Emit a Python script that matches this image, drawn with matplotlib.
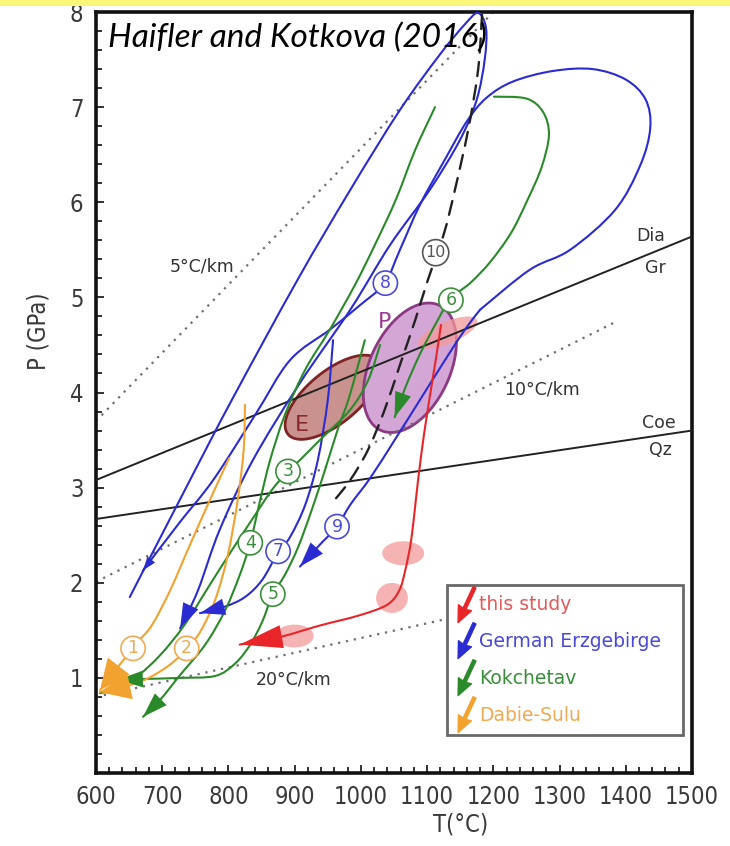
import os
import numpy as np
import matplotlib
matplotlib.use("Agg")
import matplotlib.pyplot as plt
from matplotlib import font_manager
from matplotlib.font_manager import FontProperties
from matplotlib.path import Path
from matplotlib.patches import PathPatch, Rectangle
from matplotlib.transforms import Affine2D
from matplotlib.lines import Line2D

# ---------------- data (T in °C, P in GPa) ----------------
x_ticks = [600, 700, 800, 900, 1000, 1100, 1200, 1300, 1400, 1500]
y_ticks = [1, 2, 3, 4, 5, 6, 7, 8]

# geotherms (dotted)
geo5_T, geo5_P = [600, 1200], [3.70, 8.0]
geo10_T, geo10_P = [600, 1384], [2.01, 4.74]
geo20_T, geo20_P = [600, 1130], [0.80, 1.62]

# reaction lines
diagr_T, diagr_P = [600, 1500], [3.08, 5.64]
coeqz_T, coeqz_P = [600, 1500], [2.67, 3.60]

# this study (red)
red_T = [1121, 1113, 1101, 1091, 1083, 1076, 1067, 1058, 1040, 999, 938, 878, 817]
red_P = [4.71, 4.34, 3.82, 3.34, 2.87, 2.45, 2.13, 1.92, 1.77, 1.66, 1.55, 1.43, 1.35]

# German Erzgebirge (blue)
blue_tall_T = [651, 742, 805, 904, 984, 1059, 1119, 1157, 1177, 1189, 1187, 1175, 1150,
               1104, 1044, 984, 908, 837, 787, 754, 727]
blue_tall_P = [1.85, 3.08, 3.92, 5.18, 6.13, 6.97, 7.55, 7.87, 7.99, 7.83, 7.50, 7.08, 6.66,
               6.13, 5.55, 4.87, 4.10, 3.29, 2.56, 1.92, 1.52]
blue8_T = [1180, 1255, 1316, 1384, 1422, 1437, 1430, 1400, 1350, 1290, 1230, 1190, 1160, 1127,
           1089, 1059, 1036, 999, 953, 893, 840, 777, 727, 671]
blue8_P = [4.87, 5.29, 5.50, 5.92, 6.39, 6.78, 7.08, 7.29, 7.40, 7.38, 7.27, 7.10, 6.85, 6.45,
           5.97, 5.50, 5.15, 4.92, 4.66, 4.34, 3.76, 3.08, 2.64, 2.13]
blue9_T = [1180, 1157, 1127, 1089, 1051, 1014, 984, 964, 938, 908]
blue9_P = [4.87, 4.66, 4.34, 3.92, 3.50, 3.10, 2.82, 2.59, 2.40, 2.17]
blue7_T = [958, 950, 935, 916, 893, 875, 851, 825, 795, 757]
blue7_P = [4.55, 3.92, 3.29, 2.82, 2.48, 2.32, 2.03, 1.85, 1.75, 1.68]

# Kokchetav (green)
green6_T = [1201, 1250, 1275, 1284, 1273, 1252, 1227, 1195, 1165, 1136, 1116, 1089, 1067, 1051]
green6_P = [7.11, 7.09, 6.95, 6.71, 6.37, 6.03, 5.68, 5.37, 5.15, 4.99, 4.76, 4.40, 4.05, 3.74]
green4_T = [1112, 1082, 1053, 1021, 991, 953, 916, 885, 863, 848, 833, 817, 795, 765, 727, 697, 671]
green4_P = [7.00, 6.55, 6.03, 5.55, 5.13, 4.66, 4.24, 3.76, 3.29, 2.87, 2.42, 2.08, 1.71, 1.35, 1.03, 0.77, 0.59]
green3_T = [1029, 1011, 984, 938, 908, 890, 866, 840, 805, 772, 734, 697, 659, 621, 606]
green3_P = [4.50, 4.13, 3.82, 3.50, 3.29, 3.17, 2.98, 2.71, 2.34, 1.98, 1.56, 1.24, 1.00, 0.87, 0.84]
green5_T = [1006, 994, 981, 965, 946, 926, 905, 885, 867, 851, 833, 810, 780, 727, 682, 633]
green5_P = [4.55, 4.24, 3.92, 3.61, 3.19, 2.77, 2.37, 2.08, 1.88, 1.59, 1.35, 1.15, 1.02, 1.00, 0.99, 0.98]

# Dabie-Sulu (orange)
orange2_T = [825, 823, 814, 799, 780, 757, 737, 712, 674, 633, 606]
orange2_P = [3.87, 3.40, 2.87, 2.29, 1.82, 1.48, 1.31, 1.14, 0.98, 0.89, 0.85]
orange1_T = [801, 772, 742, 712, 685, 666, 656, 636, 606]
orange1_P = [3.31, 2.87, 2.40, 1.92, 1.56, 1.40, 1.31, 1.14, 0.87]

# path 10 (dashed black)
dash10_T = [1183, 1177, 1162, 1142, 1125, 1101, 1082, 1059, 1036, 1011, 984, 958]
dash10_P = [7.97, 7.39, 6.76, 6.13, 5.66, 5.18, 4.76, 4.29, 3.82, 3.40, 3.08, 2.85]

# ellipses: centre, half-axis vectors (T, P)
ellE = dict(c=(958, 3.95), a=(68, 0.389), b=(24.9, -0.211))
ellP = dict(c=(1074, 4.26), a=(44.2, 0.657), b=(54.7, -0.178))
# pink fields (this study)
pink_fields = [
    dict(c=(1131, 4.63), a=(44.5, 0.131), b=(6.5, -0.106)),
    dict(c=(1064, 2.31), a=(31.7, 0.0), b=(0.0, 0.126)),
    dict(c=(1047, 1.84), a=(24.0, 0.0), b=(0.0, 0.158)),
    dict(c=(900, 1.44), a=(28.7, 0.0), b=(0.0, 0.12)),
]

# path labels
num_labels = [("1", 656, 1.31, "orange"), ("2", 737, 1.31, "orange"),
              ("3", 890, 3.17, "green"), ("4", 833, 2.42, "green"),
              ("5", 867, 1.88, "green"), ("6", 1136, 4.97, "green"),
              ("7", 875, 2.33, "blue"), ("8", 1037, 5.15, "blue"),
              ("9", 964, 2.59, "blue"), ("10", 1113, 5.47, "dash")]

legend_labels = ["this study", "German Erzgebirge", "Kokchetav", "Dabie-Sulu"]

# ---------------- styles ----------------
C = dict(red="#e8262a", blue="#2b2bd2", green="#2a8a2a", orange="#f2a22e", dash="#333333")
C_TXT = dict(red="#e55a5a", blue="#4a4ad8", green="#3b8f3b", orange="#f0aa55", dash="#555555")


def find_font(part):
    for f in font_manager.fontManager.ttflist:
        if part.lower() == os.path.basename(f.fname).lower():
            return f.fname
    return None


cond = find_font("DejaVuSansCondensed.ttf")
if cond:
    tick_fp = FontProperties(fname=cond, size=17)
    lab_fp = FontProperties(fname=cond, size=17)
else:
    tick_fp = FontProperties(family="DejaVu Sans", size=15.5)
    lab_fp = FontProperties(family="DejaVu Sans", size=16)

fig = plt.figure(figsize=(7.3, 8.46), dpi=100)
fig.patches.append(Rectangle((0, 1 - 6 / 846), 1, 6 / 846, transform=fig.transFigure,
                             fc="#f8f77a", ec="none", zorder=0))
ax = fig.add_axes([0.1315, 0.0863, 0.8164, 0.8995])
ax.set_xlim(600, 1500)
ax.set_ylim(0, 8)

ax.set_xticks(x_ticks)
ax.set_yticks(y_ticks)
ax.set_xticks(np.arange(600, 1501, 20), minor=True)
ax.set_yticks(np.arange(0, 8.01, 0.2), minor=True)
ax.tick_params(which="both", direction="in", width=1.3, colors="#222222",
               labelcolor="#3a3a3a")
ax.tick_params(which="major", length=6, pad=9)
ax.tick_params(which="minor", length=4)
for lbl in ax.get_xticklabels() + ax.get_yticklabels():
    lbl.set_fontproperties(tick_fp)
for s in ax.spines.values():
    s.set_linewidth(2.6)
    s.set_color("#111111")

ax.set_xlabel("T(°C)", fontproperties=lab_fp, color="#3a3a3a")
ax.set_ylabel("P (GPa)", fontproperties=lab_fp, color="#3a3a3a")
ax.xaxis.set_label_coords(0.611, -0.052)
ax.yaxis.set_label_coords(-0.076, 0.58)

# geotherms
dot = dict(color="#6e6e6e", lw=1.6, ls=(0, (1, 2.6)), zorder=2)
ax.plot(geo5_T, geo5_P, **dot)
ax.plot(geo10_T, geo10_P, **dot)
ax.plot(geo20_T, geo20_P, **dot)

# reaction lines
ax.plot(diagr_T, diagr_P, color="#222222", lw=1.4, zorder=3)
ax.plot(coeqz_T, coeqz_P, color="#222222", lw=1.4, zorder=3)


def ellipse_pts(e, n=200):
    t = np.linspace(0, 2 * np.pi, n)
    T = e["c"][0] + e["a"][0] * np.cos(t) + e["b"][0] * np.sin(t)
    P = e["c"][1] + e["a"][1] * np.cos(t) + e["b"][1] * np.sin(t)
    return T, P


eT, eP = ellipse_pts(ellE)
ax.fill(eT, eP, fc="#c9928e", ec="#7e2424", lw=2.0, zorder=1)
pT, pP = ellipse_pts(ellP)
ax.fill(pT, pP, fc="#d3a6d6", ec="#8c3a82", lw=2.0, zorder=1)
for e in pink_fields:
    t_, p_ = ellipse_pts(e)
    ax.fill(t_, p_, fc="#f49a9a", ec="none", alpha=0.75, zorder=1.5)


def smooth_curve(T, P, color, lw=1.5, ls="-", z=4):
    """Draw a smooth Bezier (Catmull-Rom) curve through the given P-T points."""
    pts = np.column_stack([T, P]).astype(float)
    n = len(pts)
    verts = [pts[0]]
    codes = [Path.MOVETO]
    for i in range(n - 1):
        p0 = pts[i - 1] if i > 0 else pts[i]
        p1, p2 = pts[i], pts[i + 1]
        p3 = pts[i + 2] if i + 2 < n else pts[i + 1]
        verts += [p1 + (p2 - p0) / 6.0, p2 - (p3 - p1) / 6.0, p2]
        codes += [Path.CURVE4] * 3
    ax.add_patch(PathPatch(Path(verts, codes), fc="none", ec=color, lw=lw, ls=ls,
                           zorder=z, capstyle="round"))


def arrow(T, P, color, ms=20, hl=0.8, hw=0.28, z=6):
    ax.annotate("", xy=(T[-1], P[-1]), xytext=(T[-2], P[-2]),
                arrowprops=dict(arrowstyle=f"-|>,head_length={hl},head_width={hw}",
                                color=color, lw=0, shrinkA=0, shrinkB=0,
                                mutation_scale=ms), zorder=z)


lw = 1.5
# blue
smooth_curve(blue_tall_T, blue_tall_P, C["blue"], lw)
arrow(blue_tall_T, blue_tall_P, C["blue"], ms=20, hl=0.9, hw=0.3)
smooth_curve(blue8_T, blue8_P, C["blue"], lw)
arrow(blue8_T, blue8_P, C["blue"], ms=14, hl=0.7, hw=0.25)
smooth_curve(blue9_T, blue9_P, C["blue"], lw)
arrow(blue9_T, blue9_P, C["blue"], ms=20, hl=0.9, hw=0.3)
smooth_curve(blue7_T, blue7_P, C["blue"], lw)
arrow(blue7_T, blue7_P, C["blue"], ms=20, hl=0.9, hw=0.3)
# green
for T_, P_ in [(green6_T, green6_P), (green4_T, green4_P), (green3_T, green3_P), (green5_T, green5_P)]:
    smooth_curve(T_, P_, C["green"], lw)
    arrow(T_, P_, C["green"], ms=20, hl=0.9, hw=0.3)
# orange
for T_, P_ in [(orange2_T, orange2_P), (orange1_T, orange1_P)]:
    smooth_curve(T_, P_, C["orange"], lw)
    arrow(T_, P_, C["orange"], ms=22, hl=1.0, hw=0.45)
# red
smooth_curve(red_T, red_P, C["red"], lw, z=5)
arrow(red_T, red_P, C["red"], ms=22, hl=1.4, hw=0.38)
# dashed
smooth_curve(dash10_T, dash10_P, "#222222", 1.7, ls=(0, (6, 4)))

# labels
for s, T_, P_, key in num_labels:
    ax.text(T_, P_, s, ha="center", va="center", fontsize=12.5 if len(s) == 1 else 11.5,
            color=C_TXT[key], zorder=8,
            bbox=dict(boxstyle="circle,pad=0.18", fc="white", ec=C_TXT[key], lw=1.2))

ax.text(911, 3.66, "E", ha="center", va="center", fontsize=16, color="#8b2a2a", zorder=8)
ax.text(1036, 4.74, "P", ha="center", va="center", fontsize=16, color="#9a3f96", zorder=8)

gtxt = dict(fontsize=12.5, color="#333333", ha="center", va="center", zorder=8)
ax.text(760, 5.32, "5°C/km", **gtxt)
ax.text(1273, 4.03, "10°C/km", **gtxt)
ax.text(899, 0.98, "20°C/km", **gtxt)
ax.text(1437, 5.65, "Dia", **gtxt)
ax.text(1444, 5.31, "Gr", **gtxt)
ax.text(1450, 3.68, "Coe", **gtxt)
ax.text(1452, 3.40, "Qz", **gtxt)

ax.text(0.02, 0.954, "Haifler and Kotkova (2016)", transform=ax.transAxes,
        fontproperties=FontProperties(family="Lato", style="italic", size=24),
        ha="left", va="baseline", color="black", zorder=9)

# legend with arrow markers
head = [(-0.36, -0.18), (0.0, -1.0), (0.36, -0.18), (0.08, -0.24), (0.08, 0.95),
        (-0.08, 0.95), (-0.08, -0.24), (-0.36, -0.18)]
arrow_path = Path(head, closed=True)
arrow_path = arrow_path.transformed(Affine2D().rotate_deg(-25))
handles = [Line2D([], [], ls="none", marker=arrow_path, markersize=26,
                  markerfacecolor=C[k], markeredgecolor=C[k])
           for k in ["red", "blue", "green", "orange"]]
leg = ax.legend(handles, legend_labels, loc="lower left",
                bbox_to_anchor=(0.589, 0.05, 0.396, 0.214), mode="expand",
                borderaxespad=0.0,
                frameon=True, fancybox=False, fontsize=13.5, handlelength=0.9,
                handletextpad=0.25, labelspacing=0.95, borderpad=0.55,
                labelcolor=[C_TXT[k] for k in ["red", "blue", "green", "orange"]])
leg.get_frame().set_edgecolor("#444444")
leg.get_frame().set_linewidth(2.0)
leg.set_zorder(10)

fig.savefig("out.png", dpi=100)
